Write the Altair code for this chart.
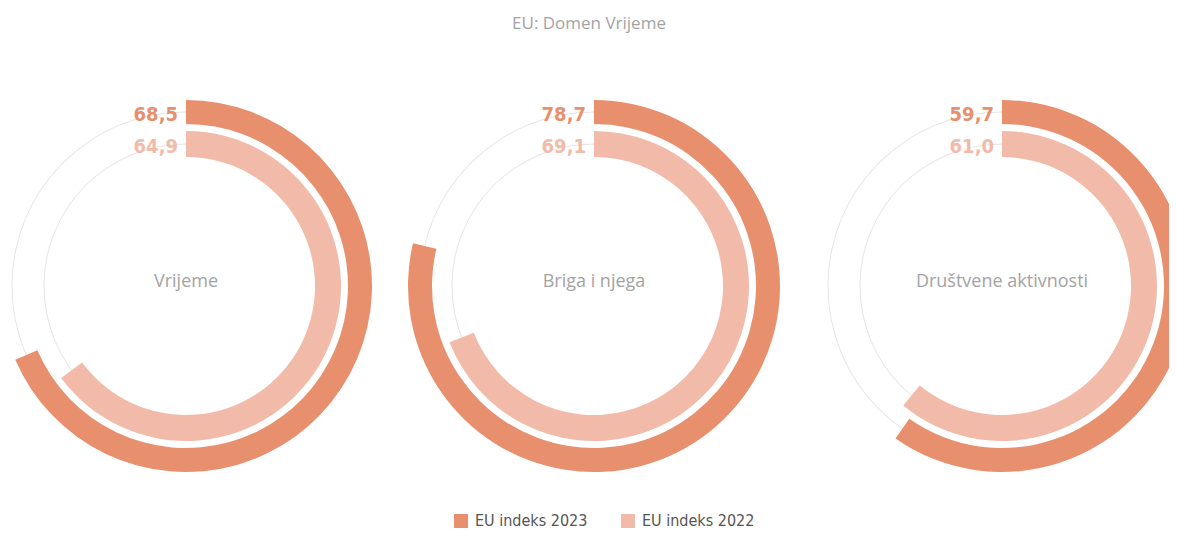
import math
import altair as alt
import pandas as pd

# ---- data ----
title_text = "EU: Domen Vrijeme"
domains = ["Vrijeme", "Briga i njega", "Društvene aktivnosti"]
series = ["EU indeks 2023", "EU indeks 2022"]
idx_2023 = [68.5, 78.7, 59.7]
idx_2022 = [64.9, 69.1, 61.0]

colors = ["#E88F6E", "#F2BAA8"]
COND = "DejaVu Sans Condensed, Liberation Sans Narrow, Arial Narrow, sans-serif"
LIGHT = "Open Sans, Segoe UI, sans-serif"


def fmt(v):
    return f"{v:.1f}".replace(".", ",")


rows = []
for d, a, b in zip(domains, idx_2023, idx_2022):
    rows.append(dict(domain=d, series=series[0], start=0, value=a, label=fmt(a)))
    rows.append(dict(domain=d, series=series[1], start=0, value=b, label=fmt(b)))
df = pd.DataFrame(rows)

base = alt.Chart(df)
X = alt.X("domain:N", scale=alt.Scale(type="point", domain=domains, range=[178, 994], padding=0), axis=None)
CY = 278
Yc = alt.value(CY)
TS = alt.Scale(domain=[0, 100], range=[0, 2 * math.pi])
CS = alt.Scale(domain=series, range=colors)

f23 = alt.datum.series == series[0]
f22 = alt.datum.series == series[1]

ring_outer = base.transform_filter(f23).mark_arc(
    theta=0, theta2=2 * math.pi, radius=174.5, radius2=173.6, color="#e4e4e4"
).encode(x=X, y=Yc)
ring_inner = base.transform_filter(f22).mark_arc(
    theta=0, theta2=2 * math.pi, radius=142.5, radius2=141.6, color="#e4e4e4"
).encode(x=X, y=Yc)

legend = alt.Legend(
    orient="none", legendX=445, legendY=505, direction="horizontal", title=None,
    symbolType="square", symbolSize=196, symbolStrokeWidth=0,
    labelFont=COND, labelFontSize=16, labelColor="#555555", labelOffset=6,
    columnPadding=32, padding=0,
)

arc23 = base.transform_filter(f23).mark_arc(radius=186, radius2=162).encode(
    x=X, y=Yc,
    theta=alt.Theta("start:Q", scale=TS, stack=None),
    theta2="value:Q",
    color=alt.Color("series:N", scale=CS, legend=legend),
)
arc22 = base.transform_filter(f22).mark_arc(radius=155, radius2=129).encode(
    x=X, y=Yc,
    theta=alt.Theta("start:Q", scale=TS, stack=None),
    theta2="value:Q",
    color=alt.Color("series:N", scale=CS, legend=legend),
)

lab23 = base.transform_filter(f23).mark_text(
    align="right", baseline="middle", dx=-8, font=COND, fontSize=20, fontWeight="bold"
).encode(x=X, y=alt.value(CY - 171), text="label:N",
         color=alt.Color("series:N", scale=CS, legend=None))
lab22 = base.transform_filter(f22).mark_text(
    align="right", baseline="middle", dx=-8, font=COND, fontSize=20, fontWeight="bold"
).encode(x=X, y=alt.value(CY - 139), text="label:N",
         color=alt.Color("series:N", scale=CS, legend=None))

center = base.transform_filter(f23).mark_text(
    align="center", baseline="middle", dy=-4, font=LIGHT, fontSize=18, color="#a3a3a3"
).encode(x=X, y=Yc, text="domain:N")

title = alt.Chart(pd.DataFrame({"t": [title_text]})).mark_text(
    align="center", baseline="middle", font=LIGHT, fontSize=17, color="#a3a3a3"
).encode(x=alt.value(581), y=alt.value(16), text="t:N")

chart = alt.layer(
    ring_outer, ring_inner, arc23, arc22, lab23, lab22, center, title
).properties(
    width=1161, height=523, padding=0,
    autosize=alt.AutoSizeParams(type="none"),
).configure_view(stroke=None)

chart.save("out.html", embed_options={"renderer": "svg", "actions": False})
